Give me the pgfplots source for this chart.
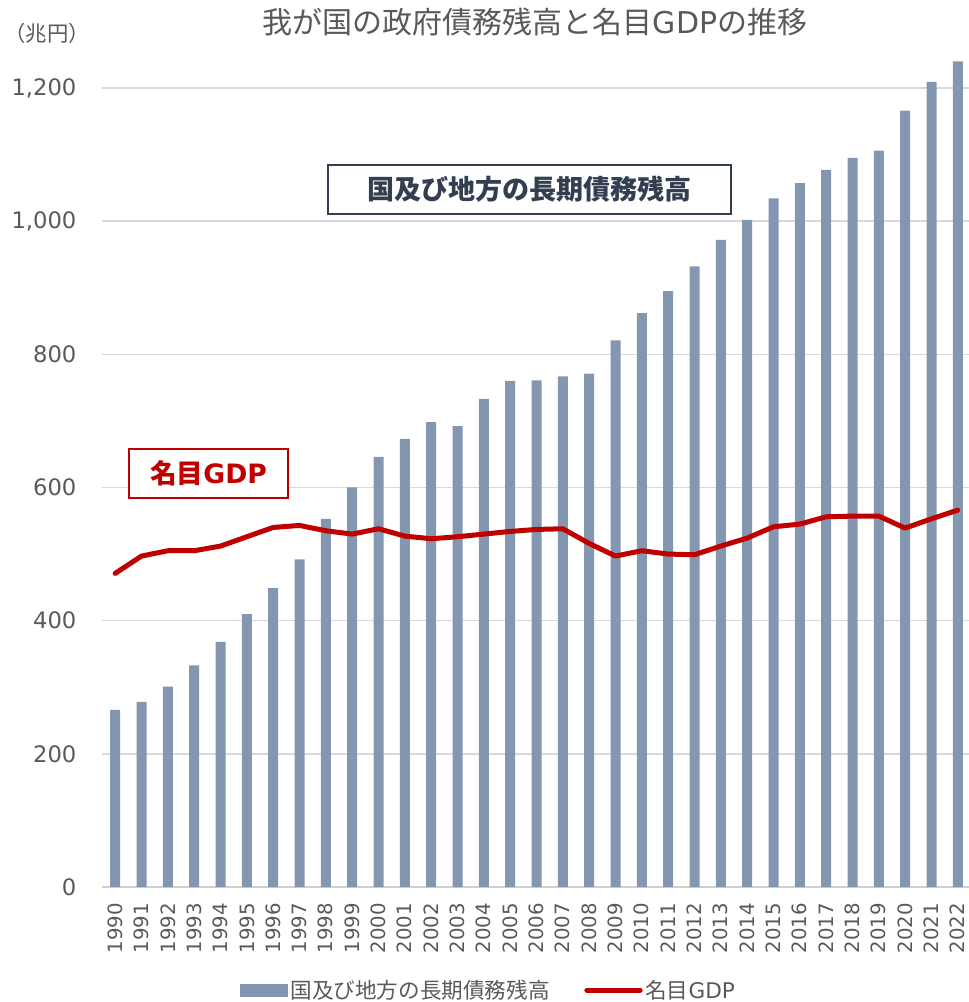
\documentclass[border=0pt]{standalone}
\usepackage{pgfplots}
\pgfplotsset{compat=1.18}
\usepackage{fontspec}
\setmainfont{DejaVu Sans}
\newfontfamily\cjk{Noto Sans CJK JP}
\definecolor{barc}{HTML}{8497B0}
\definecolor{linec}{HTML}{C00000}
\definecolor{txt}{HTML}{595959}
\definecolor{boxc}{HTML}{333F50}
\definecolor{gridc}{HTML}{D9D9D9}
\definecolor{basec}{HTML}{D0D0D0}
\pgfplotstableread{
year debt gdp
1990 266 471
1991 278 497
1992 301 505
1993 333 505
1994 368 512
1995 410 526
1996 449 540
1997 492 543
1998 553 535
1999 600 530
2000 646 538
2001 673 527
2002 698 523
2003 692 526
2004 733 530
2005 760 534
2006 761 537
2007 767 538
2008 771 516
2009 821 497
2010 862 505
2011 895 500
2012 932 499
2013 972 512
2014 1002 524
2015 1034 541
2016 1057 545
2017 1077 556
2018 1095 557
2019 1106 557
2020 1166 539
2021 1209 553
2022 1240 566
}\datatable
\begin{document}
\begin{tikzpicture}
\useasboundingbox (0pt,0pt) rectangle (726pt,-751.5pt);
\begin{axis}[
  at={(76.5pt,-665.25pt)}, anchor=south west,
  scale only axis, width=651.75pt, height=629.25pt,
  xmin=1989.5, xmax=2022.5, ymin=0, ymax=1260,
  axis line style={draw=none},
  tick style={draw=none},
  major tick length=0pt,
  ytick={0,200,...,1200},
  xtick={1990,...,2022},
  ymajorgrids,
  grid style={gridc, line width=1.1pt},
  extra y ticks={0},
  extra y tick labels={},
  extra y tick style={grid style={basec, line width=1.5pt}},
  /pgf/number format/assume math mode=true,
  yticklabel style={font=\fontsize{17}{17}\selectfont, text=txt, anchor=east, inner sep=0pt},
  yticklabel shift=19pt,
  xticklabel style={font=\fontsize{14.8}{14.8}\selectfont, text=txt, rotate=90, anchor=east, inner sep=0pt, /pgf/number format/1000 sep={}},
  xticklabel shift=12pt,
  legend columns=2,
  legend style={draw=none, fill=none, at={(0.445,-0.123)}, anchor=center,
    font=\fontsize{16.2}{16.2}\selectfont, text=txt,
    /tikz/every even column/.append style={column sep=24pt},
    inner sep=0pt},
  legend cell align=left,
]
\addplot[ybar, bar width=7.5pt, fill=barc, draw=none,
  legend image code/.code={\fill[barc] (0pt,-4.9pt) rectangle (36pt,4.9pt);}]
  table[x=year, y=debt] {\datatable};
\addlegendentry{{\cjk 国及び地方の長期債務残高}}
\addplot[sharp plot, linec, line width=3.75pt, line join=round, line cap=round, mark=none,
  legend image code/.code={\draw[linec, line width=3.75pt, line cap=round] (0pt,0pt) -- (40pt,0pt);}]
  table[x=year, y=gdp] {\datatable};
\addlegendentry{{\cjk 名目}GDP}
\end{axis}
\begin{scope}[x=0.75pt,y=0.75pt]
\node[text=txt, font=\fontsize{22.5}{22.5}\selectfont] at (535,-22) {{\cjk 我が国の政府債務残高と名目}GDP{\cjk の推移}};
\node[text=txt, font=\fontsize{16}{16}\selectfont\cjk] at (47,-33) {（兆円）};
\node[draw=boxc, line width=1.5pt, fill=white, minimum width=302.25pt, minimum height=36.75pt,
  text=boxc, font=\fontsize{20.3}{20.3}\selectfont\cjk\bfseries] at (529.5,-189.5) {国及び地方の長期債務残高};
\node[draw=linec, line width=1.5pt, fill=white, minimum width=119.25pt, minimum height=36.75pt,
  text=linec, font=\fontsize{20}{20}\selectfont\bfseries] at (208.5,-473.5) {{\cjk 名目}GDP};
\end{scope}
\end{tikzpicture}
\end{document}
